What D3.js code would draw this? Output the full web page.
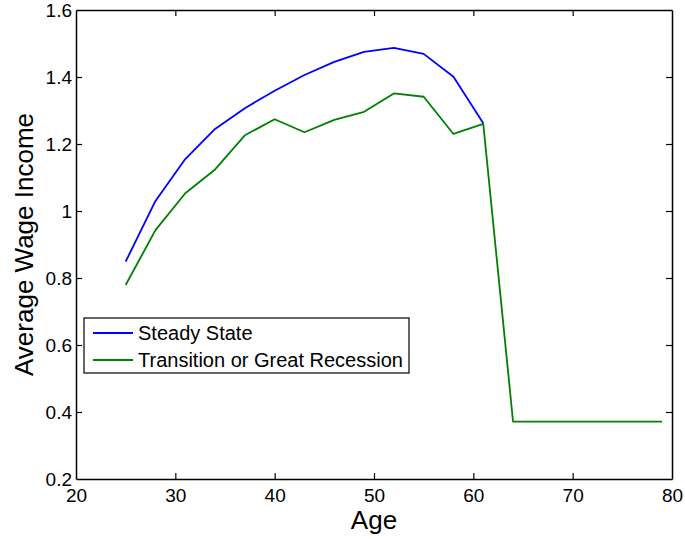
<!DOCTYPE html>
<html>
<head>
<meta charset="utf-8">
<script src="https://cdn.jsdelivr.net/npm/d3@7"></script>
<style>
  body { margin: 0; background: #fff; }
  text { font-family: "Liberation Sans", Arial, sans-serif; }
</style>
</head>
<body>
<div class="chart"></div>
<script>
// ages and values
var ages = [25, 28, 31, 34, 37, 40, 43, 46, 49, 52, 55, 58, 61, 64, 67, 70, 73, 76, 79];
var steadyAges = [25, 28, 31, 34, 37, 40, 43, 46, 49, 52, 55, 58, 61];
var steadyState = [0.849, 1.030, 1.155, 1.245, 1.307, 1.359, 1.406, 1.445, 1.475, 1.487, 1.469, 1.401, 1.262];
var transition = [0.779, 0.943, 1.053, 1.124, 1.226, 1.274, 1.235, 1.272, 1.296, 1.351, 1.341, 1.230, 1.260,
                  0.371, 0.371, 0.371, 0.371, 0.371, 0.371];
var xTicks = [20, 30, 40, 50, 60, 70, 80];
var yTicks = [0.2, 0.4, 0.6, 0.8, 1, 1.2, 1.4, 1.6];
var seriesNames = ["Steady State", "Transition or Great Recession"];
var seriesColors = ["#0000ff", "#008000"];

var margin = {top: 10, right: 13, bottom: 60, left: 76},
    width = 685 - margin.left - margin.right,
    height = 539 - margin.top - margin.bottom,
    tick = 6;

var svg = d3.select(".chart")
  .append("svg")
    .attr("width", 685)
    .attr("height", 539)
  .append("g")
    .attr("transform", "translate(" + margin.left + "," + margin.top + ")");

var x = d3.scaleLinear().domain([20, 80]).range([0, width]);
var y = d3.scaleLinear().domain([0.2, 1.6]).range([height, 0]);

var line = d3.line()
  .x(function(d) { return x(d[0]); })
  .y(function(d) { return y(d[1]); });

// data lines
svg.append("path")
  .datum(d3.zip(steadyAges, steadyState))
  .attr("fill", "none")
  .attr("stroke", seriesColors[0])
  .attr("stroke-width", 1.8)
  .attr("stroke-linejoin", "round")
  .attr("d", line);

svg.append("path")
  .datum(d3.zip(ages, transition))
  .attr("fill", "none")
  .attr("stroke", seriesColors[1])
  .attr("stroke-width", 1.8)
  .attr("stroke-linejoin", "round")
  .attr("d", line);

// axes, matlab style: ticks inside on all four sides
function fmt(d) { return d3.format("~g")(d); }

var xb = svg.append("g")
  .attr("transform", "translate(0," + height + ")")
  .call(d3.axisBottom(x).tickValues(xTicks).tickSizeInner(-tick).tickSizeOuter(0).tickPadding(10).tickFormat(fmt));
var xt = svg.append("g")
  .call(d3.axisTop(x).tickValues(xTicks).tickSizeInner(-tick).tickSizeOuter(0).tickFormat(""));
var yl = svg.append("g")
  .call(d3.axisLeft(y).tickValues(yTicks).tickSizeInner(-tick).tickSizeOuter(0).tickPadding(4).tickFormat(fmt));
var yr = svg.append("g")
  .attr("transform", "translate(" + width + ",0)")
  .call(d3.axisRight(y).tickValues(yTicks).tickSizeInner(-tick).tickSizeOuter(0).tickFormat(""));

[xb, xt, yl, yr].forEach(function(g) {
  g.selectAll(".domain").attr("stroke", "#000").attr("stroke-width", 1.5);
  g.selectAll(".tick line").attr("stroke", "#000").attr("stroke-width", 1.2);
  g.selectAll(".tick text")
    .attr("fill", "#000")
    .style("font-family", "'Liberation Sans', Arial, sans-serif")
    .style("font-size", "19px");
});
// tick labels at the edges should not be cut by end ticks
xb.selectAll(".tick line").filter(function(d) { return d == 20 || d == 80; }).remove();
xt.selectAll(".tick line").filter(function(d) { return d == 20 || d == 80; }).remove();
yl.selectAll(".tick line").filter(function(d) { return d == 0.2 || d == 1.6; }).remove();
yr.selectAll(".tick line").filter(function(d) { return d == 0.2 || d == 1.6; }).remove();

// axis labels
svg.append("text")
  .attr("x", width / 2)
  .attr("y", height + 50)
  .attr("text-anchor", "middle")
  .style("font-size", "26px")
  .text("Age");

svg.append("text")
  .attr("transform", "translate(" + (33 - margin.left) + "," + (height / 2) + ") rotate(-90)")
  .attr("text-anchor", "middle")
  .style("font-size", "26px")
  .text("Average Wage Income");

// legend
var legend = svg.append("g")
  .attr("transform", "translate(" + (84 - margin.left) + "," + (318 - margin.top) + ")");

legend.append("rect")
  .attr("width", 325)
  .attr("height", 55)
  .attr("fill", "#fff")
  .attr("stroke", "#000")
  .attr("stroke-width", 1.2);

seriesNames.forEach(function(name, i) {
  var ly = 15 + i * 27;
  legend.append("line")
    .attr("x1", 9).attr("x2", 49)
    .attr("y1", ly).attr("y2", ly)
    .attr("stroke", seriesColors[i])
    .attr("stroke-width", 1.8);
  legend.append("text")
    .attr("x", 54)
    .attr("y", ly + 7)
    .style("font-size", "20px")
    .text(name);
});
</script>
</body>
</html>
